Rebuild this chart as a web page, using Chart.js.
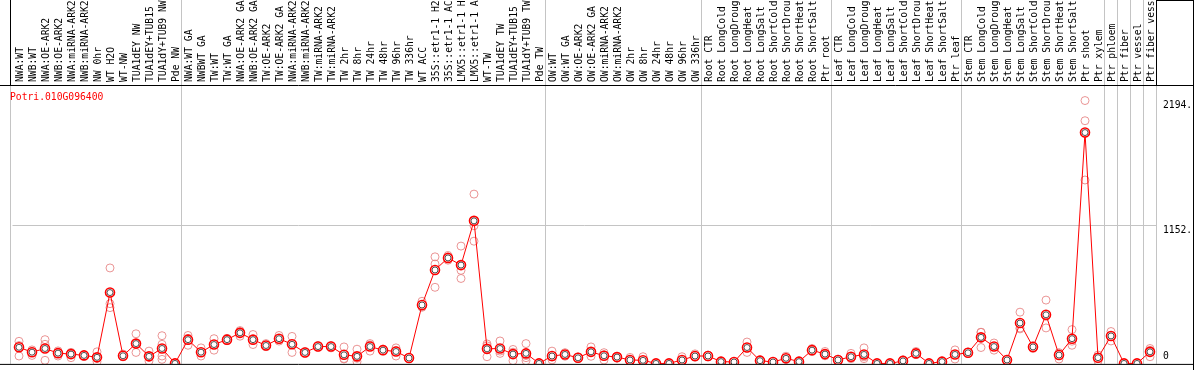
<!DOCTYPE html>
<html>
<head>
<meta charset="utf-8">
<script src="https://cdn.jsdelivr.net/npm/chart.js@4.4.1/dist/chart.umd.min.js"></script>
<style>
    html, body { margin: 0; padding: 0; background: #ffffff; }
    #wrap { width: 1194px; height: 370px; }
</style>
</head>
<body>
<div id="wrap"><canvas id="myChart" width="1194" height="370"></canvas></div>
<script>
// Gene + sample data
const geneName = "Potri.010G096400";

const categories = [
    "NWA:WT", "NWB:WT", "NWA:OE-ARK2", "NWB:OE-ARK2", "NWA:miRNA-ARK2", "NWB:miRNA-ARK2",
    "NW 0hr", "WT H2O", "WT-NW", "TUA1dEY NW", "TUA1dEY+TUB15 NW", "TUA1dY+TUB9 NW", "Pde NW",
    "NWA:WT GA", "NWBWT GA", "TW:WT", "TW:WT GA", "NWA:OE-ARK2 GA", "NWB:OE-ARK2 GA",
    "TW:OE-ARK2", "TW:OE-ARK2 GA", "NWA:miRNA-ARK2 GA", "NWB:miRNA-ARK2 GA", "TW:miRNA-ARK2",
    "TW:miRNA-ARK2 GA", "TW 2hr", "TW 8hr", "TW 24hr", "TW 48hr", "TW 96hr", "TW 336hr", "WT ACC",
    "35S::etr1-1 H2O", "35S::etr1-1 ACC", "LMX5::etr1-1 H2O", "LMX5::etr1-1 ACC", "WT-TW",
    "TUA1dEY TW", "TUA1dEY+TUB15 TW", "TUA1dY+TUB9 TW", "Pde TW",
    "OW:WT", "OW:WT GA", "OW:OE-ARK2", "OW:OE-ARK2 GA", "OW:miRNA-ARK2", "OW:miRNA-ARK2 GA",
    "OW 2hr", "OW 8hr", "OW 24hr", "OW 48hr", "OW 96hr", "OW 336hr",
    "Root CTR", "Root LongCold", "Root LongDrought", "Root LongHeat", "Root LongSalt",
    "Root ShortCold", "Root ShortDrought", "Root ShortHeat", "Root ShortSalt", "Ptr root",
    "Leaf CTR", "Leaf LongCold", "Leaf LongDrought", "Leaf LongHeat", "Leaf LongSalt",
    "Leaf ShortCold", "Leaf ShortDrought", "Leaf ShortHeat", "Leaf ShortSalt", "Ptr leaf",
    "Stem CTR", "Stem LongCold", "Stem LongDrought", "Stem LongHeat", "Stem LongSalt",
    "Stem ShortCold", "Stem ShortDrought", "Stem ShortHeat", "Stem ShortSalt", "Ptr shoot",
    "Ptr xylem", "Ptr phloem", "Ptr fiber", "Ptr vessel", "Ptr fiber vessel"
];

// mean expression per sample
const meanValues = [
    135, 94, 125, 86, 78, 67, 51, 593, 64, 166, 59, 125, 0,
    199, 94, 158, 199, 256, 199, 150, 207, 160, 92, 141, 141, 72, 59, 141, 111, 100, 45,
    489, 782, 883, 823, 1193, 122, 125, 78, 84, 0,
    62, 75, 47, 97, 64, 53, 29, 26, 0, 0, 29, 62,
    62, 15, 12, 133, 23, 12, 43, 15, 111, 78,
    29, 56, 75, 0, 0, 21, 84, 0, 15, 75,
    89, 218, 141, 29, 338, 138, 407, 70, 207, 1932,
    48, 230, 0, 0, 97
];

// individual replicates
const rep1 = [
    185, 113, 199, 105, 92, 70, 97, 799, 78, 248, 103, 232, 5,
    234, 130, 207, 210, 275, 242, 166, 234, 226, 100, 150, 130, 138, 119, 166, 120, 130, 50,
    520, 892, 902, 982, 1417, 163, 188, 117, 166, 0,
    103, 90, 55, 138, 90, 60, 50, 56, 0, 0, 56, 80,
    70, 20, 15, 179, 30, 15, 60, 20, 125, 100,
    35, 84, 130, 0, 0, 30, 100, 0, 20, 113,
    95, 261, 171, 35, 429, 150, 530, 90, 283, 2200,
    70, 267, 0, 0, 125
];
const rep2 = [
    62, 67, 160, 62, 48, 60, 15, 500, 55, 92, 21, 160, 0,
    152, 62, 111, 190, 228, 158, 140, 200, 92, 85, 135, 150, 37, 15, 103, 105, 62, 40,
    470, 832, 864, 779, 1152, 56, 84, 23, 48, 5,
    30, 60, 40, 60, 29, 45, 20, 10, 0, 0, 15, 55,
    55, 10, 10, 92, 20, 10, 35, 12, 100, 70,
    25, 40, 40, 0, 0, 15, 75, 0, 10, 37,
    85, 133, 111, 25, 289, 125, 297, 37, 152, 2031,
    20, 188, 0, 0, 56
];
const rep3 = [
    150, 100, 26, 90, 90, 70, 45, 467, 60, 160, 55, 62, 0,
    210, 90, 158, 199, 265, 197, 145, 187, 162, 92, 141, 141, 41, 43, 154, 108, 108, 45,
    477, 637, 883, 711, 1023, 147, 103, 94, 23, 0,
    53, 75, 47, 93, 73, 54, 17, 12, 0, 0, 16, 51,
    61, 15, 11, 128, 19, 11, 34, 13, 108, 64,
    27, 44, 55, 0, 0, 18, 77, 0, 15, 75,
    87, 260, 141, 27, 296, 139, 394, 83, 186, 1535,
    54, 235, 0, 0, 110
];
const rep4 = [
    null, null, null, null, null, null, null, null, null, null, null, 34, null,
    null, null, null, null, null, null, null, null, null, null, null, null, null, null, null, null, null, null,
    null, null, null, null, null, null, null, null, 66, null,
    null, null, null, null, null, null, null, null, null, null, null, null,
    null, null, null, null, null, null, null, null, null, null,
    null, null, null, null, null, null, null, null, null, null,
    null, null, null, null, null, null, null, null, null, null,
    null, null, null, null, null
];

const yTickValues = [0, 1152, 2194];
const yTickLabels = ["0", "1152.", "2194."];

// group boundaries (grid line drawn before these sample indices)
const groupStarts = [13, 41, 53, 63, 73, 84, 85, 86, 87];

const monoFont = "DejaVu Sans Mono";
const gridGrey = "#c4c4c4";
const repColor = "rgba(230, 130, 130, 0.85)";

// frame, title and right-hand value labels
const framePlugin = {
    id: "frame",
    afterDraw(chart) {
        const ctx = chart.ctx;
        const area = chart.chartArea;
        const yScale = chart.scales.y;
        const W = chart.width;
        const H = chart.height;

        ctx.save();
        ctx.lineWidth = 1;

        ctx.strokeStyle = gridGrey;
        ctx.beginPath();
        ctx.moveTo(10.5, area.top);
        ctx.lineTo(10.5, area.bottom);
        ctx.stroke();

        ctx.strokeStyle = "#000";
        ctx.beginPath();
        ctx.moveTo(0, area.top + 0.5);
        ctx.lineTo(W, area.top + 0.5);
        ctx.moveTo(0, area.bottom + 0.5);
        ctx.lineTo(W, area.bottom + 0.5);
        ctx.moveTo(10.5, 0);
        ctx.lineTo(10.5, area.top);
        ctx.moveTo(Math.floor(area.right) + 0.5, 0);
        ctx.lineTo(Math.floor(area.right) + 0.5, area.top);
        ctx.moveTo(Math.floor(area.right), 0.5);
        ctx.lineTo(W, 0.5);
        ctx.moveTo(W - 0.5, 0);
        ctx.lineTo(W - 0.5, H);
        ctx.stroke();

        ctx.font = "9.7px '" + monoFont + "'";
        ctx.textBaseline = "middle";
        ctx.textAlign = "left";

        ctx.fillStyle = "#ff0000";
        ctx.fillText(geneName, 10, area.top + 12);

        ctx.fillStyle = "#000";
        yTickValues.forEach((v, i) => {
            const py = Math.min(yScale.getPixelForValue(v) + 4.5, area.bottom - 7);
            ctx.fillText(yTickLabels[i], area.right + 6.5, py);
        });
        ctx.restore();
    }
};

function repDataset(values) {
    return {
        label: "replicate",
        data: values,
        showLine: false,
        pointRadius: 4,
        pointBorderWidth: 1,
        pointBorderColor: repColor,
        pointBackgroundColor: "rgba(0,0,0,0)",
        order: 3,
    };
}

function initChart() {
    const ctx = document.getElementById("myChart");

    const data = {
        labels: categories,
        datasets: [
            repDataset(rep1),
            repDataset(rep2),
            repDataset(rep3),
            repDataset(rep4),
            {
                label: geneName,
                data: meanValues,
                borderColor: "#ff0000",
                borderWidth: 1,
                tension: 0,
                pointRadius: 4.5,
                pointBorderWidth: 1.6,
                pointBorderColor: "#ff0000",
                pointBackgroundColor: "#ffffff",
                order: 1,
            },
            {
                label: "mean ring",
                data: meanValues,
                showLine: false,
                pointRadius: 3,
                pointBorderWidth: 0.8,
                pointBorderColor: "rgba(0,0,0,0.85)",
                pointBackgroundColor: "rgba(0,0,0,0)",
                order: 0,
            },
        ],
    };

    const config = {
        type: "line",
        data: data,
        options: {
            responsive: false,
            animation: false,
            devicePixelRatio: 1,
            layout: {
                padding: { left: 12.5, right: 0, top: 0, bottom: 1 },
            },
            plugins: {
                legend: { display: false },
                tooltip: { enabled: false },
                title: { display: false },
            },
            scales: {
                x: {
                    type: "category",
                    position: "top",
                    offset: true,
                    grid: {
                        offset: true,
                        drawTicks: true,
                        tickLength: 85,
                        lineWidth: 1,
                        color: (c) => {
                            if (c.index === undefined) return gridGrey;
                            return groupStarts.includes(c.index) ? gridGrey : "rgba(0,0,0,0)";
                        },
                    },
                    border: { display: false },
                    ticks: {
                        autoSkip: false,
                        minRotation: 90,
                        maxRotation: 90,
                        padding: -82,
                        labelOffset: 13,
                        color: "#000",
                        font: { family: monoFont, size: 9.7 },
                    },
                    afterFit: (scale) => { scale.height = 85; },
                },
                y: {
                    position: "right",
                    min: -4,
                    max: 2330,
                    afterBuildTicks: (scale) => {
                        scale.ticks = yTickValues.map((v) => ({ value: v }));
                    },
                    grid: {
                        drawTicks: false,
                        color: (c) => (c.tick && c.tick.value === 1152 ? gridGrey : "rgba(0,0,0,0)"),
                    },
                    border: { display: false },
                    ticks: { display: false },
                    afterFit: (scale) => { scale.width = 37.5; },
                },
            },
        },
        plugins: [framePlugin],
    };

    return new Chart(ctx, config);
}

initChart();
</script>
</body>
</html>
